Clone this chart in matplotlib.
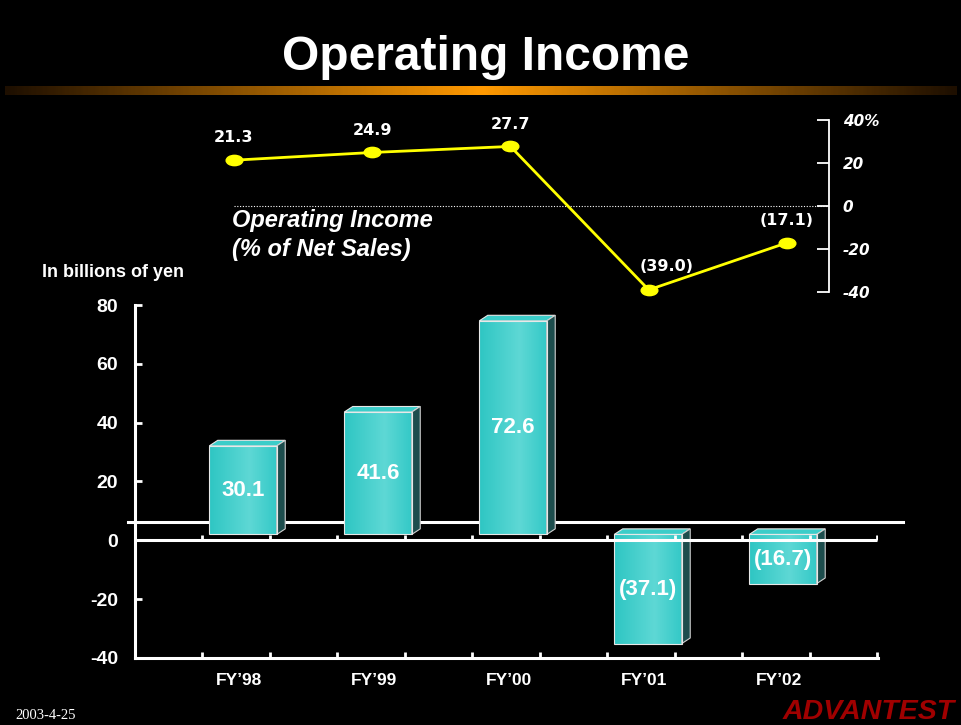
import numpy as np
import matplotlib
matplotlib.use('Agg')
import matplotlib.pyplot as plt
from matplotlib.patches import Polygon
from matplotlib.path import Path
from matplotlib.transforms import Affine2D
from matplotlib.colors import LinearSegmentedColormap

# ---------------- data ----------------
categories = ["FY\u201998", "FY\u201999", "FY\u201900", "FY\u201901", "FY\u201902"]
income = [30.1, 41.6, 72.6, -37.1, -16.7]
income_labels = ["30.1", "41.6", "72.6", "(37.1)", "(16.7)"]
margin = [21.3, 24.9, 27.7, -39.0, -17.1]
margin_labels = ["21.3", "24.9", "27.7", "(39.0)", "(17.1)"]
bar_ticks = [80, 60, 40, 20, 0, -20, -40]
pct_ticks = [40, 20, 0, -20, -40]
pct_tick_labels = ["40%", "20", "0", "-20", "-40"]

plt.rcParams['font.family'] = ['Liberation Sans', 'DejaVu Sans']

W, H = 961, 725
fig = plt.figure(figsize=(W / 100, H / 100), dpi=100, facecolor='black')


def frac(x0, y0, x1, y1):
    return [x0 / W, 1 - y1 / H, (x1 - x0) / W, (y1 - y0) / H]


def ftext(x, y, s, **kw):
    return fig.text(x / W, 1 - y / H, s, color='white', **kw)


# ---------------- title & orange band ----------------
ftext(486, 70, "Operating Income", ha='center', va='baseline',
      fontsize=34.5, fontweight='bold')

band = fig.add_axes(frac(5, 86, 957, 95))
band.axis('off')
band_cmap = LinearSegmentedColormap.from_list('band', ['#1e0f00', '#ff9900', '#1e0f00'])
band.imshow(np.linspace(0, 1, 400)[None, :], cmap=band_cmap, aspect='auto',
            extent=(0, 1, 0, 1))

# ---------------- bar chart ----------------
ax = fig.add_axes(frac(135, 305, 878, 658))
ax.set_facecolor('none')
x = np.arange(len(categories))
XL = (-0.8, 4.704)
ax.set_xlim(*XL)
ax.set_ylim(-40, 80)

base = 2.0      # 3-D floor offset of the bar fronts
dx, dy = 0.063, 1.9
front_cmap = LinearSegmentedColormap.from_list(
    'front', [(0, '#2ec6c3'), (0.6, '#5ed8d5'), (1, '#34c9c7')])

# back floor line (behind bars)
ax.plot([-0.852, 4.889], [6.1, 6.1], color='white', lw=2.2, clip_on=False, zorder=1)

bars = ax.bar(x, income, width=0.5, bottom=base, color='none',
              edgecolor='#e8e8e8', linewidth=0.8, zorder=4)
for patch in bars:
    x0 = patch.get_x()
    w = patch.get_width()
    y0 = patch.get_y()
    h = patch.get_height()
    ymin, ymax = min(y0, y0 + h), max(y0, y0 + h)
    x1 = x0 + w
    im = ax.imshow(np.linspace(0, 1, 100)[None, :], cmap=front_cmap, aspect='auto',
                   extent=(x0, x1, ymin, ymax), zorder=3, interpolation='bilinear')
    im.set_clip_path(patch)
    top = Polygon([(x0, ymax), (x1, ymax), (x1 + dx, ymax + dy), (x0 + dx, ymax + dy)],
                  closed=True, facecolor='#3ccdc9', edgecolor='#e8e8e8', lw=0.8, zorder=3)
    side = Polygon([(x1, ymin), (x1 + dx, ymin + dy), (x1 + dx, ymax + dy), (x1, ymax)],
                   closed=True, facecolor='#1d4d4d', edgecolor='#d0d0d0', lw=0.8, zorder=3)
    ax.add_patch(top)
    ax.add_patch(side)

ax.set_xlim(*XL)
ax.set_ylim(-40, 80)

for xi, v, lab in zip(x, income, income_labels):
    ax.text(xi, base + v / 2, lab, ha='center', va='center', color='white',
            fontsize=16, fontweight='bold', zorder=6)

# zero line with ticks (drawn over bars)
xt = np.linspace(-0.8, 4.7, 12)
ax.plot([XL[0], 4.7], [0, 0], color='white', lw=2.2, zorder=5, solid_capstyle='butt')
ax.vlines(xt, 0, 1.8, color='white', lw=2, zorder=5)

for s in ['top', 'right']:
    ax.spines[s].set_visible(False)
for s in ['left', 'bottom']:
    ax.spines[s].set_color('white')
    ax.spines[s].set_linewidth(2.2)
ax.set_xticks(xt)
ax.set_xticklabels([])
ax.set_yticks(bar_ticks)
ax.set_yticklabels([str(t) for t in bar_ticks])
ax.tick_params(axis='x', direction='in', length=4, width=2, colors='white')
ax.tick_params(axis='y', direction='in', length=5, width=2, colors='white',
               pad=12, labelsize=14)
for lab in ax.get_yticklabels():
    lab.set_fontweight('bold')

for xi, cat in zip(x, categories):
    ax.text(xi - 0.03, -0.076, cat, transform=ax.get_xaxis_transform(),
            ha='center', va='baseline', color='white', fontsize=12.5,
            fontweight='bold', family=['Liberation Sans Narrow', 'Liberation Sans'])

ftext(42, 277, "In billions of yen", ha='left', va='baseline',
      fontsize=13, fontweight='bold')

# ---------------- % of net sales line ----------------
ax2 = fig.add_axes(frac(135, 120, 829, 292))
ax2.set_facecolor('none')
XL2 = (-0.716, 4.304)
ax2.set_xlim(*XL2)
ax2.set_ylim(-40, 40)
for s in ['left', 'top', 'bottom']:
    ax2.spines[s].set_visible(False)
ax2.spines['right'].set_color('white')
ax2.spines['right'].set_linewidth(1.3)
ax2.yaxis.tick_right()
ax2.set_xticks([])
ax2.set_yticks(pct_ticks)
ax2.set_yticklabels(pct_tick_labels)
ax2.tick_params(axis='y', direction='in', length=8.5, width=1.3, colors='white',
                pad=10, labelsize=11)
for lab in ax2.get_yticklabels():
    lab.set_fontfamily('DejaVu Sans')
    lab.set_fontweight('bold')
    lab.set_fontstyle('italic')

ax2.plot([0, XL2[1]], [0, 0], color='white', lw=0.8, ls=(0, (1, 1.5)), zorder=2)

ellipse = Path.unit_circle().transformed(Affine2D().scale(1, 0.62))
ax2.plot(x, margin, color='#ffff00', lw=2, marker=ellipse, ms=12,
         mfc='#ffff00', mec='#ffff00', zorder=4, clip_on=False)

lowest = int(np.argmin(margin))
for i, (xi, v, lab) in enumerate(zip(x, margin, margin_labels)):
    off = (13, 17) if i == lowest else (0, 16)
    ax2.annotate(lab, (xi, v), xytext=off, textcoords='offset points',
                 ha='center', va='center', color='white', fontsize=11.5,
                 fontweight='bold', family='DejaVu Sans', zorder=5)

ftext(232, 227, "Operating Income", ha='left', va='baseline', fontsize=17,
      fontweight='bold', fontstyle='italic')
ftext(232, 256, "(% of Net Sales)", ha='left', va='baseline', fontsize=17,
      fontweight='bold', fontstyle='italic')

# ---------------- footer ----------------
ftext(15, 719, "2003-4-25", ha='left', va='baseline', fontsize=10.5,
      family='Liberation Serif')
fig.text(955 / W, 1 - 719 / H, "ADVANTEST", ha='right', va='baseline',
         fontsize=20.5, fontweight='bold', fontstyle='italic', color='#a00000')

fig.savefig('out.png', dpi=100, facecolor='black')
